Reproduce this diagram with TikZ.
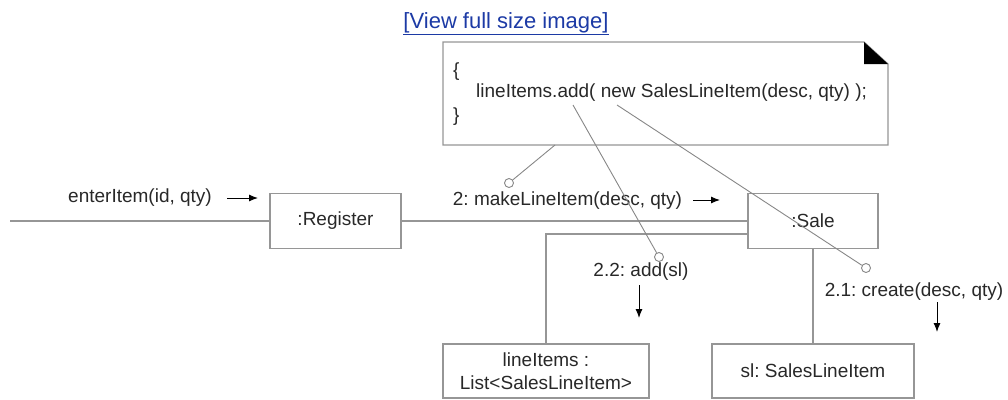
\documentclass[tikz,border=0pt]{standalone}
\usepackage{fontspec}
\setmainfont{Liberation Sans}
\usetikzlibrary{arrows.meta}
\definecolor{linkblue}{RGB}{28,58,165}
\definecolor{ink}{RGB}{40,40,40}
\definecolor{edge}{RGB}{150,150,150}
\frenchspacing

\begin{document}
\begin{tikzpicture}[x=1pt,y=-1pt,every node/.style={font=\fontsize{19}{23}\selectfont}]
\tikzstyle{obj} = [draw=edge, line width=1.3pt, minimum height=55pt, inner sep=0pt, align=center, text=ink]
\tikzstyle{lnk} = [draw=edge, line width=1.2pt]
\tikzstyle{thinlnk} = [draw=edge!90!black, line width=0.9pt]
\tikzstyle{msg} = [text=ink, inner sep=0pt]
\tikzstyle{dir} = [-{Latex[length=9pt,width=7pt]}, line width=1pt, black]
\tikzstyle{knob} = [draw=edge!90!black, circle, fill=white, minimum size=9pt, inner sep=0pt, line width=0.9pt]

\useasboundingbox (0,0) rectangle (1008,399);

% link above the picture
\node[text=linkblue, inner sep=0pt, font=\fontsize{22}{26}\selectfont] (view) at (506,24) {\underline{[View full size image]}};

% the note
\draw[lnk, fill=white] (443,42) -- (864,42) -- (888,64) -- (888,145) -- (443,145) -- cycle;
\fill[black] (864,42) -- (864,64) -- (888,64) -- cycle;
\node[msg, anchor=west] (ob)   at (453,72)  {\{};
\node[msg, anchor=west] (code) at (476,93)  {lineItems.add( new SalesLineItem(desc, qty) );};
\node[msg, anchor=west] (cb)   at (453,117) {\}};
\coordinate (notefoot) at (555,145);
\coordinate (addref) at (573,105);
\coordinate (newref) at (617,105);

% objects
\node[obj, minimum width=131pt] (register)  at (335.5,221) {:Register};
\node[obj, minimum width=130pt] (sale)      at (813,221)   {:Sale};
\node[obj, minimum width=206pt, minimum height=54pt] (lineitems) at (546,371) {lineItems :\\List<SalesLineItem>};
\node[obj, minimum width=202pt, minimum height=54pt] (sli)       at (813,371) {sl: SalesLineItem};

% links
\coordinate (actor) at (10,221);
\draw[lnk] (actor) -- (register);
\draw[lnk] (register) -- (sale);
\draw[lnk] ([yshift=-13pt]sale.west) -| (lineitems.north);
\draw[lnk] (sale.south) -- (sli.north);

% messages
\node[msg] (enter)  at (140,198)   {enterItem(id, qty)};
\node[msg] (make)   at (567.5,201) {2: makeLineItem(desc, qty)};
\node[msg] (add)    at (641,272)   {2.2: add(sl)};
\node[msg] (create) at (914,292)   {2.1: create(desc, qty)};

\coordinate (enterA) at (227,198);  \coordinate (enterB) at (258,198);
\coordinate (makeA) at (693,200);   \coordinate (makeB) at (720,200);
\coordinate (addA) at (639,285);    \coordinate (addB) at (639,318);
\coordinate (createA) at (937,302); \coordinate (createB) at (937,332);
\draw[dir] (enterA) -- (enterB);
\draw[dir] (makeA) -- (makeB);
\draw[dir] (addA) -- (addB);
\draw[dir] (createA) -- (createB);

% note anchors
\node[knob] (k1) at (509,183) {};
\node[knob] (k2) at (659,257) {};
\node[knob] (k3) at (866,268) {};
\draw[thinlnk] (notefoot) -- (k1);
\draw[thinlnk] (addref) -- (k2);
\draw[thinlnk] (newref) -- (k3);

\end{tikzpicture}
\end{document}
